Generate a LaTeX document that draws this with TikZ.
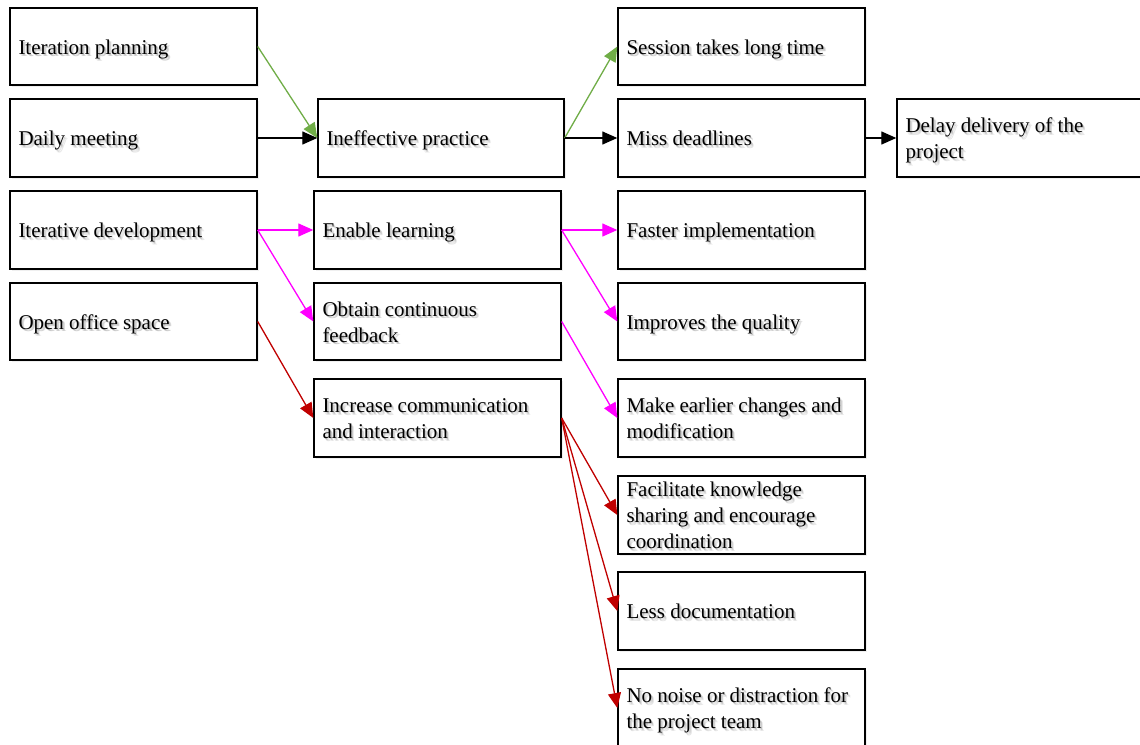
\documentclass[tikz,border=0pt]{standalone}
\usepackage{fontspec}
\setmainfont{Liberation Serif}
\usetikzlibrary{arrows.meta,shadows}
\definecolor{cgreen}{HTML}{70AD47}
\definecolor{cmag}{HTML}{FF00FF}
\definecolor{cred}{HTML}{C00000}
\tikzset{
  box/.style={draw=black, line width=1.4pt, fill=white, inner sep=0pt,
    drop shadow={opacity=0.12, shadow xshift=1.5pt, shadow yshift=-1.5pt}},
  txt/.style={anchor=west, align=left, inner sep=0pt,
    font=\fontsize{21}{26}\selectfont},
  link/.style={line width=1.3pt, -{Triangle[length=15pt,width=13pt]}},
}
% box with left-aligned, softly shadowed text: name, left, top, width, height, text
\newcommand\flowbox[6]{%
  \node[box, minimum width=#4pt, minimum height=#5pt] (#1) at ({#2+#4/2},{#3+#5/2}) {};
  \foreach \dd in {1.0,1.8,2.6}{%
    \node[txt, text=black, opacity=0.10] at ([xshift=9pt+\dd pt, yshift=-2.5pt-\dd pt]#1.west) {\strut #6\strut};
  }
  \node[txt] (#1-t) at ([xshift=9pt, yshift=-2.5pt]#1.west) {\strut #6\strut};
}
\begin{document}
\begin{tikzpicture}[x=1pt,y=-1pt]
\clip (0,0) rectangle (1140,744);
\fill[white] (0,0) rectangle (1140,744);
% causes
\flowbox{ip}{10}{8}{247}{77}{Iteration planning}
\flowbox{dm}{10}{99}{247}{78}{Daily meeting}
\flowbox{id}{10}{191}{247}{78}{Iterative development}
\flowbox{oo}{10}{283}{247}{77}{Open office space}
% intermediate effects
\flowbox{ie}{318}{99}{246}{78}{Ineffective practice}
\flowbox{el}{314}{191}{247}{78}{Enable learning}
\flowbox{ocf}{314}{283}{247}{77}{Obtain continuous\\feedback}
\flowbox{icm}{314}{379}{247}{78}{Increase communication\\and interaction}
% outcomes
\flowbox{st}{618}{8}{247}{77}{Session takes long time}
\flowbox{md}{618}{99}{247}{78}{Miss deadlines}
\flowbox{fi}{618}{191}{247}{78}{Faster implementation}
\flowbox{iq}{618}{283}{247}{77}{Improves the quality}
\flowbox{mec}{618}{379}{247}{78}{Make earlier changes and\\modification}
\flowbox{fks}{618}{476}{247}{78}{Facilitate knowledge\\sharing and encourage\\coordination}
\flowbox{ld}{618}{572}{247}{78}{Less documentation}
\flowbox{nn}{618}{669}{247}{78}{No noise or distraction for\\the project team}
\flowbox{dd}{897}{99}{247}{78}{Delay delivery of the\\project}
% connectors
\draw[link, cgreen] (ip.east) -- (ie.west);
\draw[link, black] (dm.east) -- (ie.west);
\draw[link, cgreen] (ie.east) -- (st.west);
\draw[link, black] (ie.east) -- (md.west);
\draw[link, black] (md.east) -- (dd.west);
\draw[link, cmag] (id.east) -- (el.west);
\draw[link, cmag] (id.east) -- (ocf.west);
\draw[link, cmag] (el.east) -- (fi.west);
\draw[link, cmag] (el.east) -- (iq.west);
\draw[link, cmag] (ocf.east) -- (mec.west);
\draw[link, cred] (oo.east) -- (icm.west);
\draw[link, cred] (icm.east) -- (fks.west);
\draw[link, cred] (icm.east) -- (ld.west);
\draw[link, cred] (icm.east) -- (nn.west);
\end{tikzpicture}
\end{document}
